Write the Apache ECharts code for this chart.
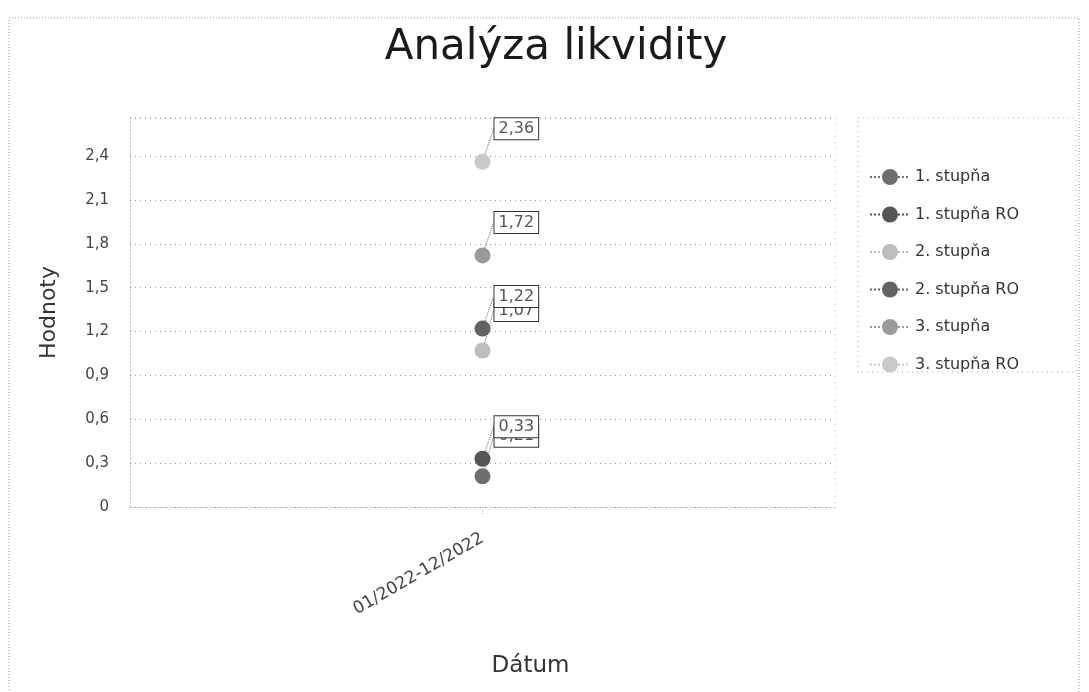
<!DOCTYPE html>
<html><head><meta charset="utf-8">
<script src="https://cdn.jsdelivr.net/npm/echarts@6/dist/echarts.min.js"></script>
<style>html,body{margin:0;padding:0;background:#fff}#c{width:1089px;height:692px}</style>
</head><body><div id="c"></div>
<script>
const categories = ['01/2022-12/2022'];
const seriesNames = ['1. stupňa', '1. stupňa RO', '2. stupňa', '2. stupňa RO', '3. stupňa', '3. stupňa RO'];
const seriesValues = [[0.21], [0.33], [1.07], [1.22], [1.72], [2.36]];
const seriesColors = ['#6e6e6e', '#555555', '#bdbdbd', '#626262', '#9a9a9a', '#c9c9c9'];
const yTicks = [0, 0.3, 0.6, 0.9, 1.2, 1.5, 1.8, 2.1, 2.4];

const fmt = v => String(v).replace('.', ',');
const font = 'DejaVu Sans';
const labelDy = [-40, -32, -40, -32, -33, -33];

const chart = echarts.init(document.getElementById('c'));
chart.setOption({
  animation: false,
  backgroundColor: '#fff',
  title: {
    text: 'Analýza likvidity', left: 551, top: 22, textAlign: 'center',
    textStyle: {fontFamily: font, fontSize: 42, fontWeight: 'normal', color: '#1a1a1a'}
  },
  grid: {left: 130, right: 254, top: 118, bottom: 185},
  legend: {
    orient: 'vertical', left: 864, top: 164, itemGap: 21.5, itemWidth: 40, itemHeight: 20,
    textStyle: {fontFamily: font, fontSize: 16, color: '#333'},
    data: seriesNames
  },
  xAxis: {
    type: 'category', data: categories, boundaryGap: true,
    name: 'Dátum', nameLocation: 'middle', nameGap: 148,
    nameTextStyle: {fontFamily: font, fontSize: 23, color: '#333', padding: [0, 0, 0, 96]},
    axisLine: {show: true, lineStyle: {color: '#aaa', type: [1, 3]}},
    axisTick: {show: true, alignWithLabel: true, length: 8, lineStyle: {color: '#aaa', type: [1, 2]}},
    axisLabel: {rotate: 30, margin: 30, fontFamily: font, fontSize: 17, color: '#444'},
    splitLine: {show: false}
  },
  yAxis: {
    type: 'value', min: 0, max: 2.66, interval: 0.3,
    name: 'Hodnoty', nameLocation: 'middle', nameGap: 70,
    nameTextStyle: {fontFamily: font, fontSize: 22, color: '#333'},
    axisLine: {show: true, lineStyle: {color: '#aaa', type: [1, 3]}},
    axisTick: {show: false},
    axisLabel: {
      fontFamily: font, fontSize: 15, color: '#444', margin: 21, showMaxLabel: false,
      formatter: v => yTicks.some(t => Math.abs(t - v) < 1e-6) ? fmt(Math.round(v * 10) / 10) : ''
    },
    splitLine: {show: true, lineStyle: {color: '#999', type: [1, 4]}}
  },
  graphic: [
    {type: 'rect', shape: {x: 9, y: 18, width: 1070, height: 700}, style: {fill: 'none', stroke: '#999', lineWidth: 1, lineDash: [1, 2]}, silent: true},
    {type: 'rect', shape: {x: 858, y: 118, width: 218, height: 254}, style: {fill: 'none', stroke: '#aaa', lineWidth: 1, lineDash: [1, 4]}, silent: true},
    {type: 'line', shape: {x1: 130, y1: 118, x2: 835, y2: 118}, style: {stroke: '#999', lineDash: [1, 4]}, silent: true},
    {type: 'line', shape: {x1: 835, y1: 118, x2: 835, y2: 507}, style: {stroke: '#bbb', lineDash: [1, 5]}, silent: true}
  ],
  series: seriesNames.map((n, i) => ({
    name: n, type: 'line', data: seriesValues[i],
    symbol: 'circle', symbolSize: 16, z: 3 + i,
    itemStyle: {color: seriesColors[i]},
    lineStyle: {color: seriesColors[i], width: 1, type: 'dotted'},
    label: {
      show: true, position: 'right', distance: 0,
      formatter: p => fmt(p.value),
      fontFamily: font, fontSize: 16, color: '#555',
      backgroundColor: '#fff', borderColor: '#333', borderWidth: 1,
      padding: [3, 4, 2, 4]
    },
    labelLayout: {dx: 4, dy: labelDy[i]},
    labelLine: {show: true, lineStyle: {color: '#666', width: 1, type: 'dotted'}}
  }))
});
</script></body></html>
